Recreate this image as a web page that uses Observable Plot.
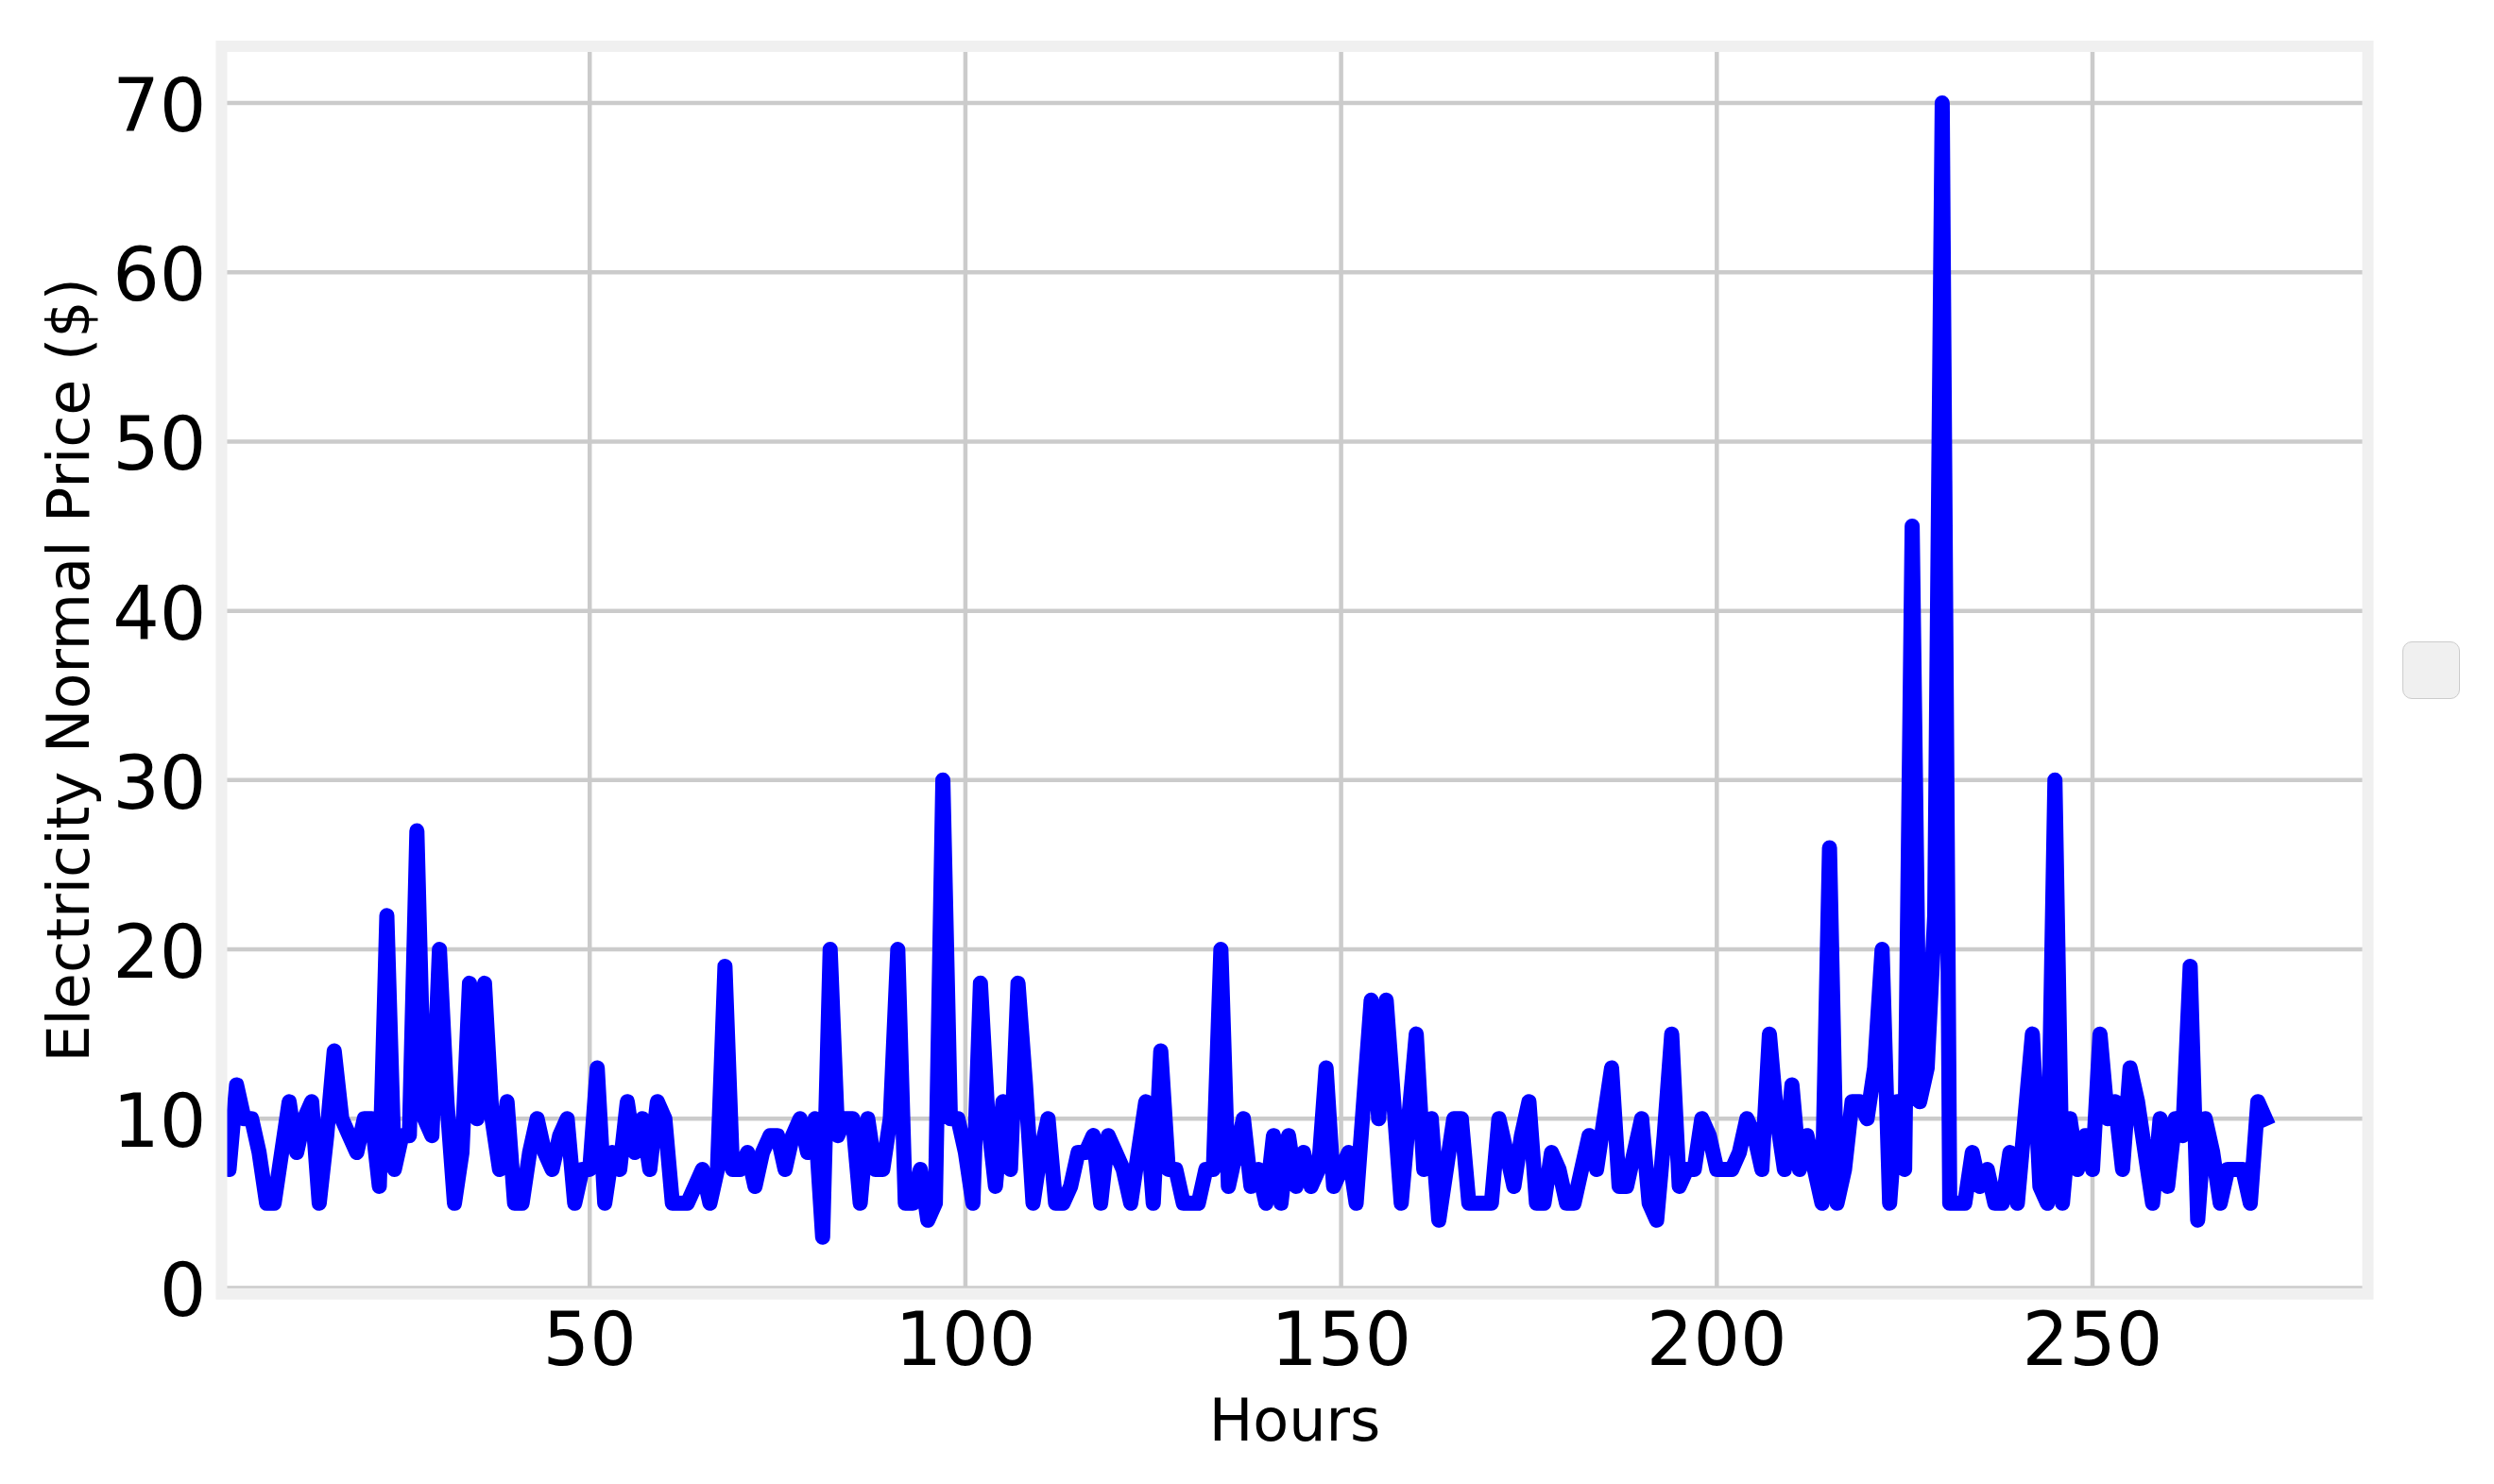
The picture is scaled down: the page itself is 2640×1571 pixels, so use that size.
<!DOCTYPE html>
<html>
<head>
<meta charset="utf-8">
<script src="https://cdn.jsdelivr.net/npm/d3@7"></script>
<script src="https://cdn.jsdelivr.net/npm/@observablehq/plot@0.6"></script>
<style>
  html, body { margin: 0; padding: 0; background: #ffffff; overflow: hidden; }
  #wrap { position: relative; width: 2640px; height: 1571px; background: #ffffff; }
  #legend {
    position: absolute; left: 2543px; top: 679px; width: 61px; height: 61px;
    box-sizing: border-box; border: 1.5px solid #cccccc; border-radius: 10px;
    background: #f0f0f0;
  }
</style>
</head>
<body>
<div id="wrap"><div id="legend"></div></div>
<script>
// Electricity normal price ($) for each hour
const prices = [
  10, 7, 12, 10, 10, 8, 5, 5, 8, 11,
  8, 10, 11, 5, 9, 14, 10, 9, 8, 10,
  10, 6, 22, 7, 9, 9, 27, 10, 9, 20,
  11, 5, 8, 18, 10, 18, 10, 7, 11, 5,
  5, 8, 10, 8, 7, 9, 10, 5, 7, 7,
  13, 5, 8, 7, 11, 8, 10, 7, 11, 10,
  5, 5, 5, 6, 7, 5, 7, 19, 7, 7,
  8, 6, 8, 9, 9, 7, 9, 10, 8, 10,
  3, 20, 9, 10, 10, 5, 10, 7, 7, 10,
  20, 5, 5, 7, 4, 5, 30, 10, 10, 8,
  5, 18, 10, 6, 11, 7, 18, 12, 5, 8,
  10, 5, 5, 6, 8, 8, 9, 5, 9, 8,
  7, 5, 8, 11, 5, 14, 7, 7, 5, 5,
  5, 7, 7, 20, 6, 8, 10, 6, 7, 5,
  9, 5, 9, 6, 8, 6, 7, 13, 6, 7,
  8, 5, 11, 17, 10, 17, 11, 5, 10, 15,
  7, 10, 4, 7, 10, 10, 5, 5, 5, 5,
  10, 8, 6, 9, 11, 5, 5, 8, 7, 5,
  5, 7, 9, 7, 10, 13, 6, 6, 8, 10,
  5, 4, 9, 15, 6, 7, 7, 10, 9, 7,
  7, 7, 8, 10, 9, 7, 15, 10, 7, 12,
  7, 9, 7, 5, 26, 5, 7, 11, 11, 10,
  13, 20, 5, 11, 7, 45, 11, 13, 22, 70,
  5, 5, 5, 8, 6, 7, 5, 5, 8, 5,
  10, 15, 6, 5, 30, 5, 10, 7, 9, 7,
  15, 10, 11, 7, 13, 11, 8, 5, 10, 6,
  10, 9, 19, 4, 10, 8, 5, 7, 7, 7,
  5, 11, 10
];
// Hour index of each value (1-based)
const hours = prices.map((_, i) => i + 1);

const xTicks = [50, 100, 150, 200, 250];
const yTicks = [0, 10, 20, 30, 40, 50, 60, 70];
const xLabel = "Hours";
const yLabel = "Electricity Normal Price ($)";

const data = hours.map((h, i) => ({hour: h, price: prices[i]}));

const chart = Plot.plot({
  width: 2640,
  height: 1571,
  marginLeft: 234,
  marginRight: 134,
  marginTop: 48.5,
  marginBottom: 201.8,
  style: {fontFamily: "'DejaVu Sans', sans-serif", background: "transparent", color: "#000000", overflow: "visible"},
  x: {domain: [1, 286.65]},
  y: {domain: [-0.35, 73.35]},
  marks: [
    Plot.gridX(xTicks, {stroke: "#cbcbcb", strokeOpacity: 1, strokeWidth: 4.5}),
    Plot.gridY(yTicks, {stroke: "#cbcbcb", strokeOpacity: 1, strokeWidth: 4.5}),
    Plot.line(data, {
      x: "hour", y: "price",
      stroke: "#0000ff", strokeWidth: 16,
      strokeLinejoin: "round", strokeLinecap: "square",
      clip: true
    }),
    Plot.frame({stroke: "#f0f0f0", strokeWidth: 12}),
    Plot.axisX(xTicks, {tickSize: 0, tickPadding: 20.4, fontSize: 78, label: null}),
    Plot.axisY(yTicks, {tickSize: 0, tickPadding: 16, fontSize: 78, label: null, dy: 5}),
    Plot.text([xLabel], {text: d => d, frameAnchor: "bottom", textAnchor: "middle", lineAnchor: "bottom", dy: 155, fontSize: 62}),
    Plot.text([yLabel], {text: d => d, frameAnchor: "left", textAnchor: "middle", rotate: -90, lineAnchor: "bottom", dx: -141, fontSize: 62})
  ]
});

document.getElementById("wrap").prepend(chart);
</script>
</body>
</html>
